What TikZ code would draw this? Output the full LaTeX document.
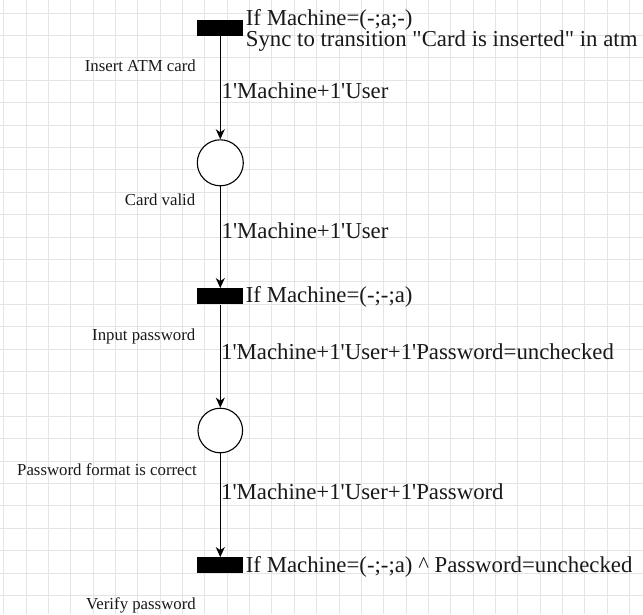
\documentclass[tikz,border=0pt]{standalone}
\usepackage{fontspec}
\newfontfamily\labfont{Liberation Serif}
\usetikzlibrary{arrows.meta}
\definecolor{gridc}{HTML}{E4E4E4}
\begin{document}
\begin{tikzpicture}[x=1pt,y=-1pt,
  trans/.style={rectangle,fill=black,draw=none,minimum width=46pt,minimum height=16pt,inner sep=0pt},
  place/.style={circle,draw=black,line width=1.1pt,fill=white,inner sep=0pt},
  arc/.style={draw=black,line width=1.2pt,-{Stealth[length=10pt,width=9pt,inset=3pt]}},
  biglab/.style={font=\labfont\fontsize{22.8}{22}\selectfont,inner sep=0pt,text=black!90},
  smalllab/.style={font=\labfont\fontsize{16.8}{17}\selectfont,inner sep=0pt,anchor=base east,text=black!90}]
\useasboundingbox (0,0) rectangle (643,614);
\fill[white] (0,0) rectangle (643,614);
\foreach \k in {0,...,28} {\draw[gridc,line width=0.9pt] ({3.7+22.35*\k},0) -- ({3.7+22.35*\k},614);}
\foreach \k in {0,...,26} {\draw[gridc,line width=0.9pt] (0,{13+22.4*\k}) -- (643,{13+22.4*\k});}

\node[trans] (t1) at (220.3,28) {};
\node[place,minimum size=46pt] (p1) at (220.3,162.8) {};
\node[trans] (t2) at (220.3,296.3) {};
\node[place,minimum size=44.6pt] (p2) at (220.3,430.5) {};
\node[trans] (t3) at (220.3,565.3) {};

\draw[arc] (t1.south) -- (p1.north);
\draw[arc] (p1.south) -- (t2.north);
\draw[arc] (t2.south) -- (p2.north);
\draw[arc] (p2.south) -- (t3.north);

\node[biglab,anchor=base west] (g1a) at (245.7,25) {If Machine=(-;a;-)};
\node[biglab,anchor=base west] (g1b) at (245.7,46.7) {Sync to transition "Card is inserted" in atm};
\node[smalllab] (n1) at (196,71.7) {Insert ATM card};
\node[biglab,anchor=base west] (e1) at (221.5,98.3) {1'Machine+1'User};

\node[smalllab] (n2) at (195.5,205) {Card valid};
\node[biglab,anchor=base west] (e2) at (221.5,238) {1'Machine+1'User};

\node[biglab,anchor=base west] (g2) at (245.7,302.5) {If Machine=(-;-;a)};
\node[smalllab] (n3) at (195.5,340) {Input password};
\node[biglab,anchor=base west] (e3) at (221,359.5) {1'Machine+1'User+1'Password=unchecked};

\node[smalllab] (n4) at (197,475) {Password format is correct};
\node[biglab,anchor=base west] (e4) at (221,499) {1'Machine+1'User+1'Password};

\node[biglab,anchor=base west] (g3) at (245.7,572) {If Machine=(-;-;a) \^{} Password=unchecked};
\node[smalllab] (n5) at (196,609) {Verify password};
\end{tikzpicture}
\end{document}
